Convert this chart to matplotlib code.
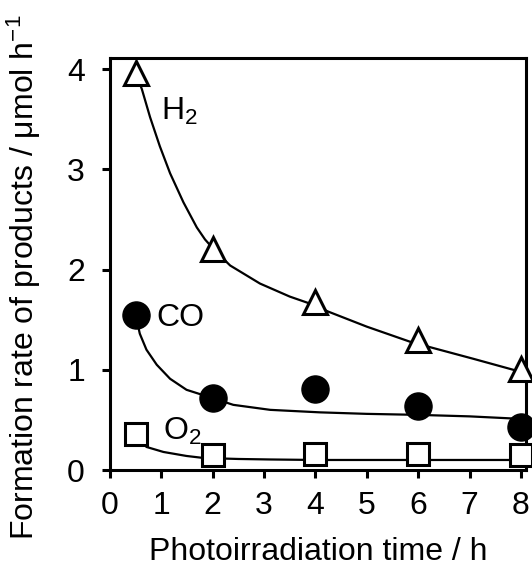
import matplotlib
matplotlib.use("Agg")
import matplotlib.pyplot as plt

plt.rcParams['font.family'] = ['Liberation Sans', 'DejaVu Sans']
plt.rcParams['mathtext.fontset'] = 'custom'
plt.rcParams['mathtext.rm'] = 'Liberation Sans'
plt.rcParams['mathtext.it'] = 'Liberation Sans:italic'
plt.rcParams['mathtext.bf'] = 'Liberation Sans:bold'

# measured formation rates (µmol/h)
t_meas = [0.5, 2, 4, 6, 8]
h2_rate = [3.96, 2.20, 1.68, 1.30, 1.01]
co_rate = [1.55, 0.72, 0.81, 0.64, 0.43]
o2_rate = [0.36, 0.15, 0.16, 0.16, 0.15]

# fitted trend lines
h2_fit_t = [0.5, 0.62, 0.78, 0.97, 1.17, 1.43, 1.69, 1.85, 2.04, 2.34,
            2.92, 3.50, 3.95, 4.25, 5.0, 5.84, 6.27, 7.07, 7.85, 8.0]
h2_fit_y = [3.96, 3.80, 3.52, 3.23, 2.96, 2.67, 2.42, 2.30, 2.19, 2.04,
            1.86, 1.73, 1.65, 1.58, 1.43, 1.28, 1.22, 1.11, 1.00, 0.98]
co_fit_t = [0.5, 0.52, 0.58, 0.71, 0.91, 1.17, 1.49, 2.04, 2.40, 3.12,
            4.09, 5.0, 6.0, 7.0, 8.0]
co_fit_y = [1.55, 1.50, 1.36, 1.20, 1.05, 0.91, 0.80, 0.71, 0.65, 0.60,
            0.575, 0.56, 0.55, 0.535, 0.51]
o2_fit_t = [0.5, 0.71, 1.04, 1.49, 1.82, 2.5, 3.12, 4.0, 5.0, 6.0, 7.0, 8.0]
o2_fit_y = [0.36, 0.23, 0.18, 0.14, 0.12, 0.11, 0.105, 0.10, 0.10, 0.10,
            0.10, 0.10]

W, H = 532, 566
fig = plt.figure(figsize=(W / 100, H / 100), dpi=100)
ax = fig.add_axes([110 / W, 1 - 470 / H, 416 / W, 412 / H])

lw_fit = 1.6
for tt, yy in ((h2_fit_t, h2_fit_y), (co_fit_t, co_fit_y), (o2_fit_t, o2_fit_y)):
    ax.plot(tt, yy, color='black', lw=lw_fit, zorder=2,
            solid_joinstyle='round')

ax.plot(t_meas, h2_rate, ls='none', marker='^', ms=17, mfc='white',
        mec='black', mew=2.2, zorder=3, clip_on=False)
ax.plot(t_meas, co_rate, ls='none', marker='o', ms=19.5, mfc='black',
        mec='black', mew=1, zorder=3, clip_on=False)
ax.plot(t_meas, o2_rate, ls='none', marker='s', ms=16.5, mfc='white',
        mec='black', mew=2.2, zorder=3, clip_on=False)

ax.text(1.0, 3.49, r'H$_2$', fontsize=23, va='baseline', ha='left')
ax.text(0.9, 1.52, 'CO', fontsize=23, va='center', ha='left')
ax.text(1.03, 0.38, r'O$_2$', fontsize=23, va='center', ha='left')

ax.set_xlim(0, 8.1)
ax.set_ylim(0, 4.11)
ax.set_xticks(range(0, 9))
ax.set_yticks(range(0, 5))

for s in ax.spines.values():
    s.set_linewidth(2.2)
ax.tick_params(axis='both', direction='out', length=6, width=2.2,
               labelsize=23)
ax.tick_params(axis='x', pad=9)
ax.tick_params(axis='y', pad=12)

ax.set_xlabel('Photoirradiation time / h', fontsize=23, labelpad=12)
fig.text(24 / W, 1 - 277 / H, r'Formation rate of products / μmol h$^{-1}$',
         rotation=90, ha='center', va='center', fontsize=23)

fig.savefig('out.png', dpi=100)
